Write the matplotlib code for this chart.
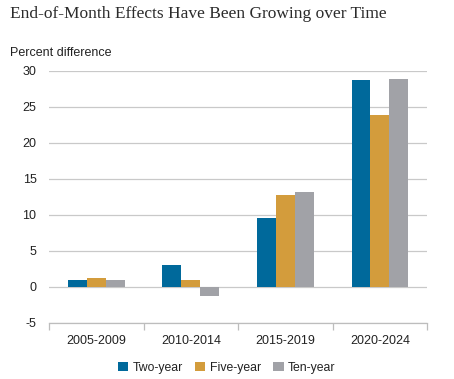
import matplotlib
matplotlib.use("Agg")
import matplotlib.pyplot as plt
import numpy as np

categories = ["2005-2009", "2010-2014", "2015-2019", "2020-2024"]
series_names = ["Two-year", "Five-year", "Ten-year"]
two_year = [1.0, 3.1, 9.6, 28.8]
five_year = [1.3, 1.0, 12.7, 23.9]
ten_year = [1.0, -1.3, 13.2, 28.9]
y_ticks = [-5, 0, 5, 10, 15, 20, 25, 30]

colors = ["#00699b", "#d39c3c", "#a1a2a7"]

fig = plt.figure(figsize=(4.54, 3.79), dpi=100)
ax = fig.add_axes([0.108, 0.148, 0.833, 0.665])

x = np.arange(len(categories))
width = 0.2
for i, (vals, name) in enumerate(zip([two_year, five_year, ten_year], series_names)):
    ax.bar(x + (i - 1) * width, vals, width, color=colors[i], label=name, zorder=3)

ax.set_xlim(-0.5, len(categories) - 0.5)
ax.set_ylim(-5, 30)
ax.set_yticks(y_ticks)
ax.set_yticklabels([str(t) for t in y_ticks])
ax.yaxis.grid(True, color="#c9c9c9", linewidth=0.9, zorder=0)
ax.set_axisbelow(True)

for s in ["top", "right", "left"]:
    ax.spines[s].set_visible(False)
ax.spines["bottom"].set_color("#bdbdbd")
ax.spines["bottom"].set_linewidth(0.9)

ax.set_xticks(x)
ax.set_xticklabels(categories)
ax.set_xticks(np.arange(-0.5, len(categories), 1.0), minor=True)
ax.tick_params(axis="x", which="major", length=0, pad=9, labelsize=9, labelcolor="#222222")
ax.tick_params(axis="x", which="minor", length=5, color="#bdbdbd", width=0.9)
ax.tick_params(axis="y", length=0, pad=9, labelsize=9, labelcolor="#222222")
for lab in ax.get_xticklabels() + ax.get_yticklabels():
    lab.set_fontfamily("Liberation Sans")

fig.text(0.022, 0.963, "End-of-Month Effects Have Been Growing over Time",
         fontsize=12.5, family="Liberation Serif", color="#2b2b2b", va="center")
fig.text(0.022, 0.86, "Percent difference", fontsize=9, family="Liberation Sans",
         color="#222222", va="center")

leg = fig.legend(loc="center", bbox_to_anchor=(0.499, 0.030), ncol=3, frameon=False,
                 prop={"family": "Liberation Sans", "size": 8.8},
                 handlelength=0.86, handleheight=0.86, handletextpad=0.35,
                 columnspacing=1.0, borderpad=0, borderaxespad=0)
for t in leg.get_texts():
    t.set_color("#222222")

fig.savefig("out.png", dpi=100)
